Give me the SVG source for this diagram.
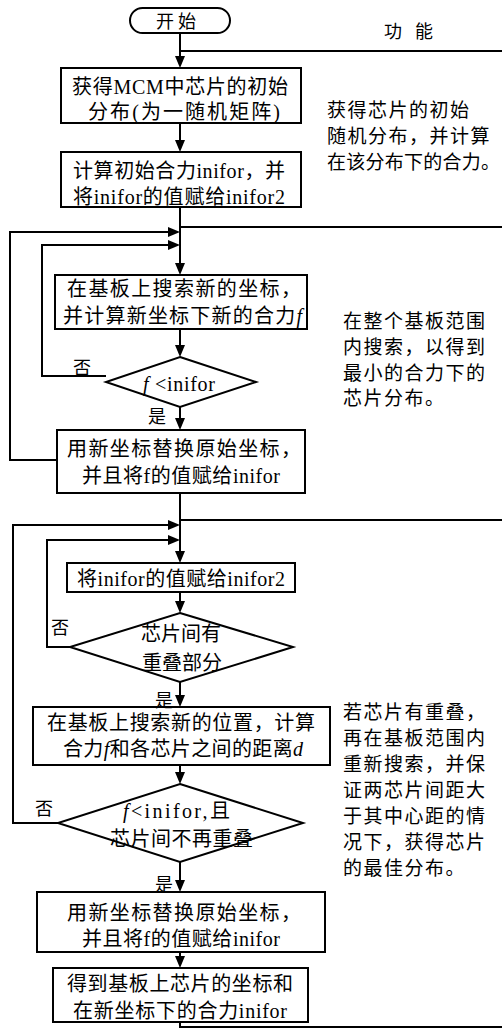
<svg xmlns="http://www.w3.org/2000/svg" width="502" height="1029" viewBox="0 0 502 1029">
<defs>
<style>
.bx{fill:#fff;stroke:#000;stroke-width:2}
.ln{fill:none;stroke:#000;stroke-width:2}
.t{font-family:'Liberation Serif','Noto Sans CJK SC',serif;font-size:20px;fill:#000}
.r{font-family:'Liberation Serif','Noto Sans CJK SC',serif;font-size:19px;letter-spacing:1.5px;fill:#000}
.s{font-family:'Liberation Serif','Noto Sans CJK SC',serif;font-size:18px;fill:#000}
.i{font-style:italic}
</style>
<marker id="ah" markerUnits="userSpaceOnUse" markerWidth="12" markerHeight="10" refX="9" refY="5" orient="auto">
<path d="M0,0 L12,5 L0,10 z" fill="#000"/>
</marker>
</defs>
<rect width="502" height="1029" fill="#fff"/>
<g id="connectors">
<path class="ln" d="M180,32 V65" marker-end="url(#ah)"/>
<path class="ln" d="M180,51 H502"/>
<path class="ln" d="M180,123 V149" marker-end="url(#ah)"/>
<path class="ln" d="M180,207 V272" marker-end="url(#ah)"/>
<path class="ln" d="M180,227 H502"/>
<path class="ln" d="M57,460 H10 V232 H177" marker-end="url(#ah)"/>
<path class="ln" d="M106,376 H42 V245 H177" marker-end="url(#ah)"/>
<path class="ln" d="M180,329 V354" marker-end="url(#ah)"/>
<path class="ln" d="M180,407 V427" marker-end="url(#ah)"/>
<path class="ln" d="M180,493 V560" marker-end="url(#ah)"/>
<path class="ln" d="M180,520 H502"/>
<path class="ln" d="M58,823 H13 V525 H177" marker-end="url(#ah)"/>
<path class="ln" d="M70,647 H47 V540 H177" marker-end="url(#ah)"/>
<path class="ln" d="M180,592 V610" marker-end="url(#ah)"/>
<path class="ln" d="M180,682 V704" marker-end="url(#ah)"/>
<path class="ln" d="M180,765 V781" marker-end="url(#ah)"/>
<path class="ln" d="M180,862 V889" marker-end="url(#ah)"/>
<path class="ln" d="M180,952 V965" marker-end="url(#ah)"/>
<path class="ln" d="M180,1022 V1027 H502"/>
</g>
<g id="start">
<rect class="bx" x="130" y="8" width="100" height="25" rx="12.5"/>
<text class="s" x="156" y="28" textLength="40">开 始</text>
</g>
<g id="func-title">
<text class="s" x="384" y="38" textLength="49">功 能</text>
</g>
<g id="box1">
<rect class="bx" x="61" y="68" width="240" height="55"/>
<text class="t" x="72" y="93.5" textLength="216">获得MCM中芯片的初始</text>
<text class="t" x="88" y="118.5" textLength="192">分布(为一随机矩阵)</text>
</g>
<g id="box2">
<rect class="bx" x="61" y="152" width="240" height="55"/>
<text class="t" x="73" y="177.5" textLength="212">计算初始合力inifor，并</text>
<text class="t" x="73" y="203.5" textLength="212">将inifor的值赋给inifor2</text>
</g>
<g id="box3">
<rect class="bx" x="55" y="275" width="252" height="54"/>
<text class="t" x="67" y="295.5" textLength="234">在基板上搜索新的坐标，</text>
<text class="t" x="63" y="322.5" textLength="239">并计算新坐标下新的合力<tspan class="i">f</tspan></text>
</g>
<g id="dec1">
<polygon class="bx" points="180,357 256,382 180,407 106,382"/>
<text class="t" x="143" y="390.5" textLength="72"><tspan class="i">f</tspan> &lt;inifor</text>
</g>
<g id="box4">
<rect class="bx" x="57" y="430" width="248" height="63"/>
<text class="t" x="67" y="455.5" textLength="234">用新坐标替换原始坐标，</text>
<text class="t" x="82" y="482.5" textLength="198">并且将f的值赋给inifor</text>
</g>
<g id="box5">
<rect class="bx" x="67" y="563" width="228" height="29"/>
<text class="t" x="77" y="585.5" textLength="208">将inifor的值赋给inifor2</text>
</g>
<g id="dec2">
<polygon class="bx" points="180,613 293,647 180,682 70,647"/>
<text class="t" x="181" y="640.5" text-anchor="middle">芯片间有</text>
<text class="t" x="182" y="669.5" text-anchor="middle">重叠部分</text>
</g>
<g id="box6">
<rect class="bx" x="33" y="707" width="297" height="58"/>
<text class="t" x="47" y="729.5" textLength="268">在基板上搜索新的位置，计算</text>
<text class="t" x="63" y="755.5" textLength="240">合力<tspan class="i">f</tspan>和各芯片之间的距离<tspan class="i">d</tspan></text>
</g>
<g id="dec3">
<polygon class="bx" points="180,784 303,823 180,862 58,823"/>
<text class="t" x="123" y="817.5" textLength="107"><tspan class="i">f</tspan>&lt;inifor,且</text>
<text class="t" x="110" y="845.5" textLength="143">芯片间不再重叠</text>
</g>
<g id="box7">
<rect class="bx" x="37" y="892" width="288" height="60"/>
<text class="t" x="67" y="919.5" textLength="234">用新坐标替换原始坐标，</text>
<text class="t" x="82" y="945.5" textLength="198">并且将f的值赋给inifor</text>
</g>
<g id="box8">
<rect class="bx" x="53" y="968" width="255" height="54"/>
<text class="t" x="67" y="990.5" textLength="226">得到基板上芯片的坐标和</text>
<text class="t" x="73" y="1017.5" textLength="214">在新坐标下的合力inifor</text>
</g>
<g id="labels">
<text class="s" x="82" y="374" text-anchor="middle">否</text>
<text class="s" x="157" y="423" text-anchor="middle">是</text>
<text class="s" x="60" y="634" text-anchor="middle">否</text>
<text class="s" x="164" y="707" text-anchor="middle">是</text>
<text class="s" x="44" y="815" text-anchor="middle">否</text>
<text class="s" x="164" y="891" text-anchor="middle">是</text>
</g>
<g id="note1">
<text class="r" x="327" y="117">获得芯片的初始</text>
<text class="r" x="327" y="143">随机分布，并计算</text>
<text class="r" x="327" y="168.5" textLength="173" style="letter-spacing:0">在该分布下的合力。</text>
</g>
<g id="note2">
<text class="r" x="343" y="328">在整个基板范围</text>
<text class="r" x="343" y="354">内搜索，以得到</text>
<text class="r" x="343" y="380">最小的合力下的</text>
<text class="r" x="343" y="405">芯片分布。</text>
</g>
<g id="note3">
<text class="r" x="343" y="719">若芯片有重叠，</text>
<text class="r" x="343" y="745">再在基板范围内</text>
<text class="r" x="343" y="771">重新搜索，并保</text>
<text class="r" x="343" y="797">证两芯片间距大</text>
<text class="r" x="343" y="823">于其中心距的情</text>
<text class="r" x="343" y="849">况下，获得芯片</text>
<text class="r" x="343" y="875">的最佳分布。</text>
</g>
</svg>
